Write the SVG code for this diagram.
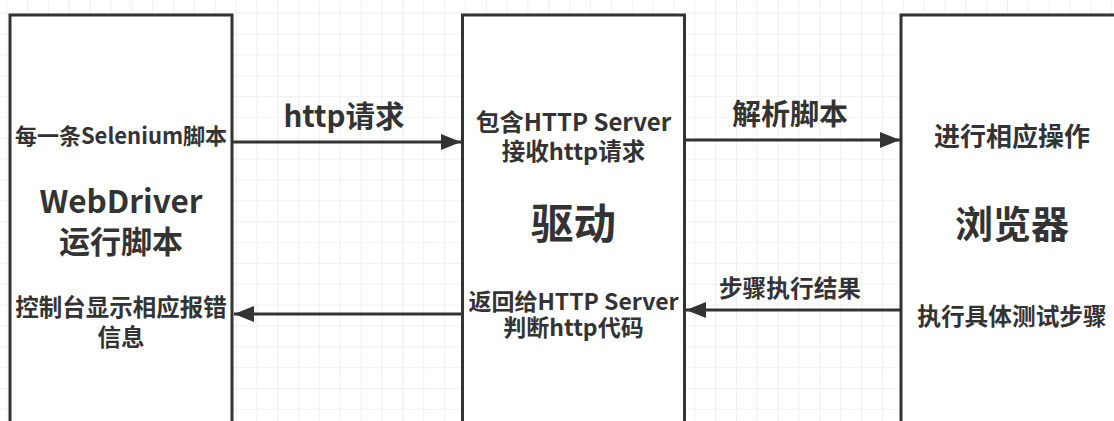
<svg xmlns="http://www.w3.org/2000/svg" width="1114" height="421" viewBox="0 0 1114 421">
  <defs>
    <pattern id="grid" x="6.2" y="12.7" width="20.85" height="20.85" patternUnits="userSpaceOnUse">
      <path d="M0 0H20.85M0 0V20.85" fill="none" stroke="#e6e6e6" stroke-width="1.2"/>
    </pattern>
    <marker id="arrow" viewBox="0 0 20 16" refX="20" refY="8" markerWidth="20" markerHeight="16" markerUnits="userSpaceOnUse" orient="auto">
      <path d="M0 0L20 8L0 16Z" fill="#333"/>
    </marker>
    <style>
      .box { fill: #fff; stroke: #333; stroke-width: 3; }
      .conn { stroke: #333; stroke-width: 3; fill: none; }
      text { font-family: "Noto Sans CJK SC", "Noto Sans", sans-serif; font-weight: bold; fill: #333; text-anchor: middle; }
      .s { font-size: 23.5px; }
      .m { font-size: 29px; }
      .l { font-size: 31.5px; }
    </style>
  </defs>
  <rect width="1114" height="421" fill="#fff"/>
  <rect width="1114" height="421" fill="url(#grid)"/>

  <g id="webdriver">
    <rect class="box" x="10" y="15" width="222" height="430"/>
    <text x="121" y="144" style="font-size:22px">每一条Selenium脚本</text>
    <text class="l" x="121" y="213">WebDriver<tspan x="121" y="253" style="font-size:31px">运行脚本</tspan></text>
    <text class="s" x="121" y="316">控制台显示相应报错<tspan x="121" y="346">信息</tspan></text>
  </g>

  <g id="driver">
    <rect class="box" x="462.5" y="15" width="222" height="430"/>
    <text x="573.5" y="131" style="font-size:24px">包含HTTP Server<tspan x="573.5" y="160" style="font-size:23.5px">接收http请求</tspan></text>
    <text x="573.5" y="239" style="font-size:42.5px">驱动</text>
    <text x="573.5" y="310" style="font-size:23px">返回给HTTP Server<tspan x="573.5" y="336">判断http代码</tspan></text>
  </g>

  <g id="browser">
    <rect class="box" x="901" y="15" width="223" height="430"/>
    <text x="1012" y="146" style="font-size:26px">进行相应操作</text>
    <text x="1012" y="238" style="font-size:38px">浏览器</text>
    <text x="1012" y="325" style="font-size:23.7px">执行具体测试步骤</text>
  </g>

  <g id="connectors">
    <line class="conn" x1="232" y1="142" x2="461" y2="142" marker-end="url(#arrow)"/>
    <line class="conn" x1="684" y1="140" x2="900" y2="140" marker-end="url(#arrow)"/>
    <line class="conn" x1="901" y1="310" x2="686" y2="310" marker-end="url(#arrow)"/>
    <line class="conn" x1="462" y1="314" x2="234" y2="314" marker-end="url(#arrow)"/>
    <text x="344" y="127" style="font-size:29.5px">http请求</text>
    <text class="m" x="790" y="125">解析脚本</text>
    <text x="790" y="297" style="font-size:23.7px">步骤执行结果</text>
  </g>
</svg>
